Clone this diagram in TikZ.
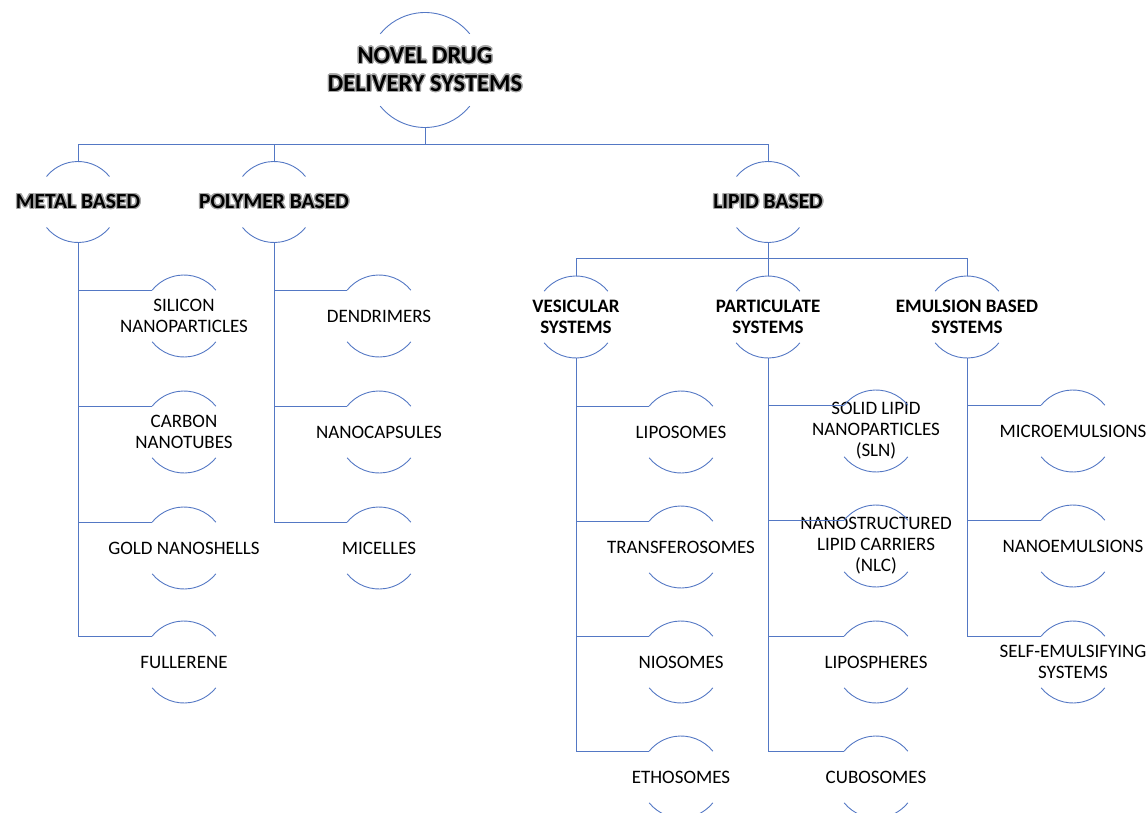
\documentclass[tikz,border=0pt]{standalone}
\usepackage{fontspec}
\setmainfont{Carlito}
\usepackage[copies]{contour}
\contourlength{1.3pt}
\newcommand{\glow}[1]{\contour{black!35}{#1}}
\definecolor{linkblue}{RGB}{84,120,196}

\tikzset{
  conn/.style={draw=linkblue, line width=0.9pt},
  titlebox/.style={font=\fontsize{24.5}{28}\selectfont\bfseries, align=center, inner sep=0pt},
  mainbox/.style={font=\fontsize{21.5}{26}\selectfont\bfseries, align=center, inner sep=0pt},
  subbox/.style={font=\fontsize{19}{21}\selectfont\bfseries, align=center, inner sep=0pt},
  leafbox/.style={font=\fontsize{19}{21}\selectfont, align=center, inner sep=0pt}
}
% upper and lower arc round a node centre
\newcommand{\arcs}[2]{%
  \draw[conn] ([shift={(39:#2)}]#1.center) arc[start angle=39, end angle=141, radius=#2];
  \draw[conn] ([shift={(219:#2)}]#1.center) arc[start angle=219, end angle=321, radius=#2];}

\begin{document}
\begin{tikzpicture}[x=1pt,y=1pt]
\useasboundingbox (0,0) rectangle (1148,-813);

\node[titlebox] (ndds) at (425,-70) {\glow{NOVEL DRUG}\\\glow{DELIVERY SYSTEMS}};

\node[mainbox] (metal) at (78,-202) {\glow{METAL BASED}};
\node[mainbox] (polymer) at (274,-202) {\glow{POLYMER BASED}};
\node[mainbox] (lipid) at (768,-202) {\glow{LIPID BASED}};

\node[subbox] (vesic) at (576,-317) {VESICULAR\\SYSTEMS};
\node[subbox] (partic) at (768,-317) {PARTICULATE\\SYSTEMS};
\node[subbox] (emuls) at (967,-317) {EMULSION BASED\\SYSTEMS};

% metal based
\node[leafbox] (silicon) at (184,-316) {SILICON\\NANOPARTICLES};
\node[leafbox] (carbon) at (184,-432) {CARBON\\NANOTUBES};
\node[leafbox] (gold) at (184,-548) {GOLD NANOSHELLS};
\node[leafbox] (fuller) at (184,-662) {FULLERENE};

% polymer based
\node[leafbox] (dendri) at (379,-316) {DENDRIMERS};
\node[leafbox] (capsule) at (379,-432) {NANOCAPSULES};
\node[leafbox] (micelle) at (379,-548) {MICELLES};

% vesicular
\node[leafbox] (lipo) at (681,-432) {LIPOSOMES};
\node[leafbox] (transf) at (681,-547) {TRANSFEROSOMES};
\node[leafbox] (nioso) at (681,-662) {NIOSOMES};
\node[leafbox] (ethoso) at (681,-777) {ETHOSOMES};

% particulate
\node[leafbox] (sln) at (876,-431) {SOLID LIPID\\NANOPARTICLES\\(SLN)};
\node[leafbox] (nlc) at (876,-546) {NANOSTRUCTURED\\LIPID CARRIERS\\(NLC)};
\node[leafbox] (lipsph) at (876,-662) {LIPOSPHERES};
\node[leafbox] (cubo) at (876,-777) {CUBOSOMES};

% emulsion based
\node[leafbox] (micro) at (1073,-431) {MICROEMULSIONS};
\node[leafbox] (nanoem) at (1073,-546) {NANOEMULSIONS};
\node[leafbox] (selfem) at (1073,-662) {SELF-EMULSIFYING\\SYSTEMS};

\arcs{ndds}{57.5}
\foreach \n in {metal,polymer,lipid} {\arcs{\n}{40.5}}
\foreach \n in {vesic,partic,emuls,silicon,carbon,gold,fuller,dendri,capsule,micelle,
  lipo,transf,nioso,ethoso,sln,nlc,lipsph,cubo,micro,nanoem,selfem} {\arcs{\n}{41}}

\foreach \m in {metal,polymer,lipid}
  \draw[conn] ([yshift=-57.5]ndds.center) -- ++(0,-17) -| ([yshift=40.5]\m.center);
\foreach \s in {vesic,partic,emuls}
  \draw[conn] ([yshift=-40.5]lipid.center) -- ++(0,-16) -| ([yshift=41]\s.center);

\foreach \l in {silicon,carbon,gold,fuller}
  \draw[conn] ([yshift=-40.5]metal.center) |- ([shift={(141:41)}]\l.center);
\foreach \l in {dendri,capsule,micelle}
  \draw[conn] ([yshift=-40.5]polymer.center) |- ([shift={(141:41)}]\l.center);
\foreach \l in {lipo,transf,nioso,ethoso}
  \draw[conn] ([yshift=-41]vesic.center) |- ([shift={(141:41)}]\l.center);
\foreach \l in {sln,nlc,lipsph,cubo}
  \draw[conn] ([yshift=-41]partic.center) |- ([shift={(141:41)}]\l.center);
\foreach \l in {micro,nanoem,selfem}
  \draw[conn] ([yshift=-41]emuls.center) |- ([shift={(141:41)}]\l.center);
\end{tikzpicture}
\end{document}
